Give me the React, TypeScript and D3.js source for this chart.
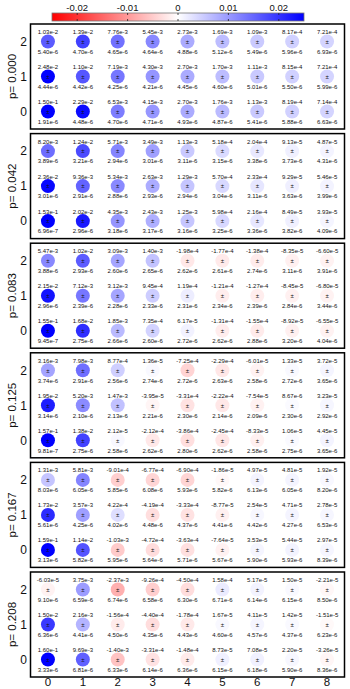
import * as d3 from 'd3';

// one entry per panel, top to bottom
const pLabels = ['p= 0.000', 'p= 0.042', 'p= 0.083', 'p= 0.125', 'p= 0.167', 'p= 0.208'];
const xCats = [0, 1, 2, 3, 4, 5, 6, 7, 8];
const yCats = [0, 1, 2];
const cbarTicks = [-0.02, -0.01, 0, 0.01, 0.02];

// rows are y = 0, 1, 2
const val000 = [
    [1.50e-1, 2.29e-2, 6.53e-3, 4.15e-3, 2.70e-3, 1.76e-3, 1.13e-3, 8.19e-4, 7.14e-4],
    [2.48e-2, 1.10e-2, 7.19e-3, 4.30e-3, 2.70e-3, 1.70e-3, 1.11e-3, 8.15e-4, 7.21e-4],
    [1.03e-2, 1.39e-2, 7.76e-3, 5.45e-3, 2.73e-3, 1.69e-3, 1.09e-3, 8.17e-4, 7.21e-4],
];
const err000 = [
    [1.91e-6, 4.48e-6, 4.70e-6, 4.71e-6, 4.93e-6, 4.87e-6, 5.41e-6, 5.88e-6, 6.63e-6],
    [4.44e-6, 4.42e-6, 4.25e-6, 4.21e-6, 4.45e-6, 4.60e-6, 5.01e-6, 5.50e-6, 5.99e-6],
    [5.40e-6, 4.70e-6, 4.65e-6, 4.64e-6, 4.88e-6, 5.12e-6, 5.49e-6, 5.96e-6, 6.93e-6],
];
const val042 = [
    [1.53e-1, 2.02e-2, 4.35e-3, 2.43e-3, 1.25e-3, 5.98e-4, 2.16e-4, 8.49e-5, 3.93e-5],
    [2.36e-2, 9.36e-3, 5.34e-3, 2.63e-3, 1.29e-3, 5.70e-4, 2.33e-4, 9.29e-5, 5.46e-5],
    [8.20e-3, 1.24e-2, 5.71e-3, 3.49e-3, 1.13e-3, 5.18e-4, 2.04e-4, 9.13e-5, 4.87e-5],
];
const err042 = [
    [6.96e-7, 2.96e-6, 3.18e-6, 3.17e-6, 3.16e-6, 3.25e-6, 3.36e-6, 3.82e-6, 4.09e-6],
    [3.01e-6, 2.91e-6, 2.88e-6, 2.93e-6, 2.94e-6, 3.04e-6, 3.11e-6, 3.63e-6, 3.99e-6],
    [3.89e-6, 3.21e-6, 2.94e-6, 3.01e-6, 3.11e-6, 3.15e-6, 3.38e-6, 3.73e-6, 4.31e-6],
];
const val083 = [
    [1.55e-1, 1.68e-2, 1.85e-3, 7.35e-4, 6.17e-5, -1.31e-4, -1.55e-4, -8.92e-5, -6.55e-5],
    [2.15e-2, 7.12e-3, 3.12e-3, 9.45e-4, 1.19e-4, -1.21e-4, -1.27e-4, -8.45e-5, -6.80e-5],
    [5.47e-3, 1.02e-2, 3.09e-3, 1.40e-3, -1.98e-4, -1.77e-4, -1.38e-4, -8.35e-5, -6.60e-5],
];
const err083 = [
    [9.45e-7, 2.75e-6, 2.66e-6, 2.60e-6, 2.72e-6, 2.62e-6, 2.88e-6, 3.20e-6, 4.04e-6],
    [2.96e-6, 2.39e-6, 2.28e-6, 2.33e-6, 2.31e-6, 2.34e-6, 2.39e-6, 2.84e-6, 3.44e-6],
    [3.88e-6, 2.93e-6, 2.60e-6, 2.65e-6, 2.62e-6, 2.61e-6, 2.74e-6, 3.11e-6, 3.91e-6],
];
const val125 = [
    [1.57e-1, 1.38e-2, 2.12e-5, -2.12e-4, -3.86e-4, -2.45e-4, -8.33e-5, 1.06e-5, 4.45e-5],
    [1.95e-2, 5.20e-3, 1.47e-3, -3.95e-5, -3.31e-4, -2.22e-4, -7.54e-5, 8.67e-6, 3.23e-5],
    [3.16e-3, 7.98e-3, 8.77e-4, 1.36e-5, -7.25e-4, -2.29e-4, -6.01e-5, 1.33e-5, 3.72e-5],
];
const err125 = [
    [9.81e-7, 2.75e-6, 2.58e-6, 2.62e-6, 2.80e-6, 2.62e-6, 2.58e-6, 2.75e-6, 3.65e-6],
    [3.14e-6, 2.10e-6, 2.13e-6, 2.21e-6, 2.30e-6, 2.14e-6, 2.09e-6, 2.30e-6, 2.92e-6],
    [3.74e-6, 2.91e-6, 2.56e-6, 2.74e-6, 2.72e-6, 2.63e-6, 2.58e-6, 2.72e-6, 3.65e-6],
];
const val167 = [
    [1.59e-1, 1.14e-2, -1.03e-3, -4.72e-4, -3.63e-4, -7.64e-5, 3.53e-5, 5.44e-5, 2.97e-5],
    [1.73e-2, 3.57e-3, 4.22e-4, -4.19e-4, -3.33e-4, -8.77e-5, 2.54e-5, 4.71e-5, 2.78e-5],
    [1.31e-3, 5.81e-3, -9.01e-4, -6.77e-4, -6.90e-4, -1.86e-5, 4.97e-5, 4.81e-5, 1.92e-5],
];
const err167 = [
    [3.13e-6, 5.82e-6, 5.95e-6, 5.64e-6, 5.71e-6, 5.67e-6, 5.90e-6, 5.93e-6, 8.39e-6],
    [5.61e-6, 4.25e-6, 4.02e-6, 4.48e-6, 4.37e-6, 4.41e-6, 4.42e-6, 4.27e-6, 6.53e-6],
    [8.03e-6, 6.05e-6, 5.85e-6, 6.08e-6, 5.93e-6, 5.82e-6, 6.13e-6, 6.05e-6, 8.20e-6],
];
const val208 = [
    [1.60e-1, 9.69e-3, -1.40e-3, -3.31e-4, -1.48e-4, 8.73e-5, 7.08e-5, 2.20e-5, -3.26e-5],
    [1.50e-2, 2.16e-3, -1.56e-4, -4.40e-4, -1.78e-4, 1.67e-5, 4.11e-5, 1.42e-5, -1.51e-5],
    [-6.03e-5, 3.75e-3, -2.37e-3, -9.26e-4, -4.50e-4, 1.58e-4, 5.17e-5, 1.50e-5, -2.21e-5],
];
const err208 = [
    [3.33e-6, 6.81e-6, 6.33e-6, 6.14e-6, 6.36e-6, 6.15e-6, 6.18e-6, 5.90e-6, 8.36e-6],
    [6.36e-6, 4.41e-6, 4.50e-6, 4.35e-6, 4.43e-6, 4.60e-6, 4.57e-6, 4.37e-6, 6.23e-6],
    [9.10e-6, 6.59e-6, 6.74e-6, 6.58e-6, 6.30e-6, 6.71e-6, 6.14e-6, 6.15e-6, 8.50e-6],
];

const panelVals = [val000, val042, val083, val125, val167, val208];
const panelErrs = [err000, err042, err083, err125, err167, err208];

const W = 350;
const H = 689;
const FONT = 'Liberation Sans, Arial, sans-serif';
const VMAX = 0.025;

export default function App() {
    const panelH = 105;
    const panelTop = d3.scaleLinear().domain([0, 5]).range([24, 572]);
    const x = d3.scaleLinear().domain([-0.5, 8.5]).range([30.5, 344.5]);
    const y = d3.scaleLinear().domain([-0.5, 2.5]).range([panelH, 0]);

    // diverging red-white-blue, sqrt-compressed so small values still show
    const ramp = d3.scaleLinear<string>()
        .domain([-1, 0, 1])
        .range(['#ff0000', '#ffffff', '#0000ff'])
        .clamp(true);
    const color = (v: number) => ramp(Math.sign(v) * Math.sqrt(Math.min(Math.abs(v) / VMAX, 1)));

    const cx = d3.scaleLinear().domain([-VMAX, VMAX]).range([52, 304]);
    const cbTop = 13;
    const cbH = 8;
    const fmt = (v: number) => v.toExponential(2);

    return (
        <svg width={W} height={H} style={{ position: 'absolute', left: 0, top: 0 }}
            fontFamily={FONT}>
            <defs>
                <linearGradient id="cbar" x1="0" x2="1" y1="0" y2="0">
                    <stop offset="0%" stopColor="#ff0000" />
                    <stop offset="50%" stopColor="#ffffff" />
                    <stop offset="100%" stopColor="#0000ff" />
                </linearGradient>
            </defs>

            {/* colorbar */}
            <rect x={cx(-VMAX)} y={cbTop} width={cx(VMAX) - cx(-VMAX)} height={cbH}
                fill="url(#cbar)" stroke="#777" strokeWidth={0.8} />
            {cbarTicks.map(t => (
                <g key={t}>
                    <line x1={cx(t)} x2={cx(t)} y1={cbTop} y2={cbTop + 2} stroke="#222" strokeWidth={0.8} />
                    <line x1={cx(t)} x2={cx(t)} y1={cbTop + cbH - 2} y2={cbTop + cbH} stroke="#222" strokeWidth={0.8} />
                    <text x={cx(t)} y={cbTop - 2.5} fontSize={9.5} textAnchor="middle" fill="#111">
                        {t === 0 ? '0' : String(t)}
                    </text>
                </g>
            ))}

            {panelVals.map((vals, pi) => {
                const top = panelTop(pi);
                const errs = panelErrs[pi];
                return (
                    <g key={pi} transform={`translate(0,${top})`}>
                        <rect x={x(-0.5)} y={0} width={x(8.5) - x(-0.5)} height={panelH}
                            fill="none" stroke="#000" strokeWidth={1.5} />
                        {yCats.map(r => (
                            <text key={r} x={27} y={y(r) + 4.3} fontSize={12} textAnchor="end" fill="#111">{r}</text>
                        ))}
                        <text transform={`translate(16,${panelH / 2}) rotate(-90)`} fontSize={11.5}
                            textAnchor="middle" fill="#111">{pLabels[pi]}</text>
                        {yCats.map(r => xCats.map(c => {
                            const v = vals[r][c];
                            return (
                                <g key={`${r}-${c}`} transform={`translate(${x(c)},${y(r)})`}>
                                    <circle r={7} fill={color(v)} />
                                    <text y={-7.5} fontSize={6} textAnchor="middle" fill="#111">{fmt(v)}</text>
                                    <text y={2.2} fontSize={6} textAnchor="middle" fill="#111">±</text>
                                    <text y={12.4} fontSize={6} textAnchor="middle" fill="#111">{fmt(errs[r][c])}</text>
                                </g>
                            );
                        }))}
                    </g>
                );
            })}

            {/* bottom x tick labels */}
            {xCats.map(c => (
                <text key={c} x={x(c)} y={686} fontSize={11.5} textAnchor="middle" fill="#111">{c}</text>
            ))}
        </svg>
    );
}
